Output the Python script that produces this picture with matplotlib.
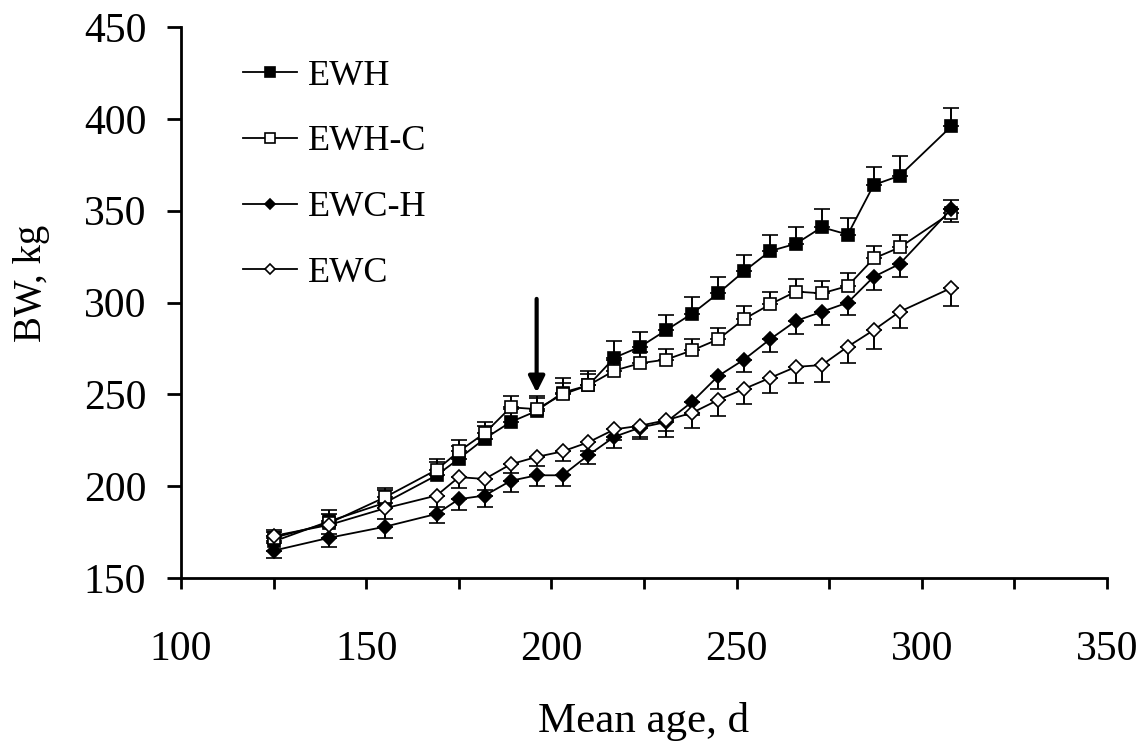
"""Body weight of calves by mean age, four feeding groups."""

import matplotlib
matplotlib.use("Agg")
import matplotlib.pyplot as plt
from matplotlib.lines import Line2D
from matplotlib.ticker import MultipleLocator

# Mean age, d
days = [125, 140, 155, 169, 175, 182, 189, 196, 203, 210, 217, 224,
        231, 238, 245, 252, 259, 266, 273, 280, 287, 294, 308]

# BW, kg
ewh = [170, 181, 191, 206, 215, 226, 235, 241, 251, 255, 270, 276,
       285, 294, 305, 317, 328, 332, 341, 337, 364, 369, 396]
ewh_err = [5, 6, 7, 7, 7, 7, 7, 8, 8, 8, 9, 8,
           8, 9, 9, 9, 9, 9, 10, 9, 10, 11, 10]

ewh_c = [172, 180, 194, 209, 219, 229, 243, 242, 250, 255, 263, 267,
         269, 274, 280, 291, 299, 306, 305, 309, 324, 330, 349]
ewh_c_err = [4, 5, 5, 6, 6, 6, 6, 6, 6, 6, 6, 6,
             6, 6, 6, 7, 7, 7, 7, 7, 7, 7, 7]

ewc_h = [165, 172, 178, 185, 193, 195, 203, 206, 206, 217, 227, 232,
         235, 246, 260, 269, 280, 290, 295, 300, 314, 321, 351]
ewc_h_err = [4, 5, 6, 5, 6, 6, 6, 6, 6, 5, 6, 6,
             8, 7, 7, 7, 7, 7, 7, 7, 7, 7, 7]

ewc = [173, 179, 188, 195, 205, 204, 212, 216, 219, 224, 231, 233,
       236, 240, 247, 253, 259, 265, 266, 276, 285, 295, 308]
ewc_err = [4, 5, 6, 6, 6, 6, 5, 5, 5, 5, 6, 6,
           6, 8, 9, 8, 8, 9, 9, 9, 10, 9, 10]

arrow_day = 196
arrow_from, arrow_to = 302, 251

plt.rcParams['font.family'] = ['Liberation Serif', 'DejaVu Serif']

fig = plt.figure(figsize=(11.46, 7.48), dpi=100)
ax = fig.add_axes([0.158, 0.227, 0.808, 0.737])

zeros = [0] * len(days)
# (name, values, errors, marker, fill, size, error goes up?)
series = [
    ('EWH', ewh, ewh_err, 's', 'black', 9.0, True),
    ('EWH-C', ewh_c, ewh_c_err, 's', 'white', 8.5, True),
    ('EWC-H', ewc_h, ewc_h_err, 'D', 'black', 7.0, False),
    ('EWC', ewc, ewc_err, 'D', 'white', 7.0, False),
]

handles = []
for name, vals, err, mk, fill, ms, up in series:
    yerr = [zeros, err] if up else [err, zeros]
    ax.errorbar(days, vals, yerr=yerr, color='black', linewidth=1.3,
                marker=mk, markersize=ms, markerfacecolor=fill,
                markeredgecolor='black', markeredgewidth=1.2,
                ecolor='black', elinewidth=1.4, capsize=5.5, capthick=1.4)
    handles.append(Line2D([], [], color='black', linewidth=1.3, marker=mk,
                          markersize=ms - 1.5, markerfacecolor=fill,
                          markeredgecolor='black', markeredgewidth=1.2,
                          label=name))

# стрелка - момент смены рациона
ax.annotate('', xy=(arrow_day, arrow_to), xytext=(arrow_day, arrow_from),
            arrowprops=dict(arrowstyle='-|>', color='black', lw=3,
                            mutation_scale=24, shrinkA=0, shrinkB=0))

ax.set_xlim(100, 350)
ax.set_ylim(150, 450)
ax.xaxis.set_major_locator(MultipleLocator(50))
ax.xaxis.set_minor_locator(MultipleLocator(25))
ax.yaxis.set_major_locator(MultipleLocator(50))

for side in ('top', 'right'):
    ax.spines[side].set_visible(False)
for side in ('left', 'bottom'):
    ax.spines[side].set_linewidth(2)

ax.tick_params(axis='x', which='both', direction='out', width=2,
               length=8, labelsize=30, pad=30)
ax.tick_params(axis='y', which='both', direction='out', width=2,
               length=10, labelsize=30, pad=15)

ax.set_xlabel('Mean age, d', fontsize=31)
ax.xaxis.set_label_coords(0.50, -0.224)
ax.set_ylabel('BW, kg', fontsize=28)
ax.yaxis.set_label_coords(-0.142, 0.535)

ax.legend(handles=handles, loc='upper left', bbox_to_anchor=(0.032, 1.0),
          frameon=False, fontsize=26, handlelength=1.5, handletextpad=0.3,
          labelspacing=0.9)

fig.savefig('out.png', dpi=100)
